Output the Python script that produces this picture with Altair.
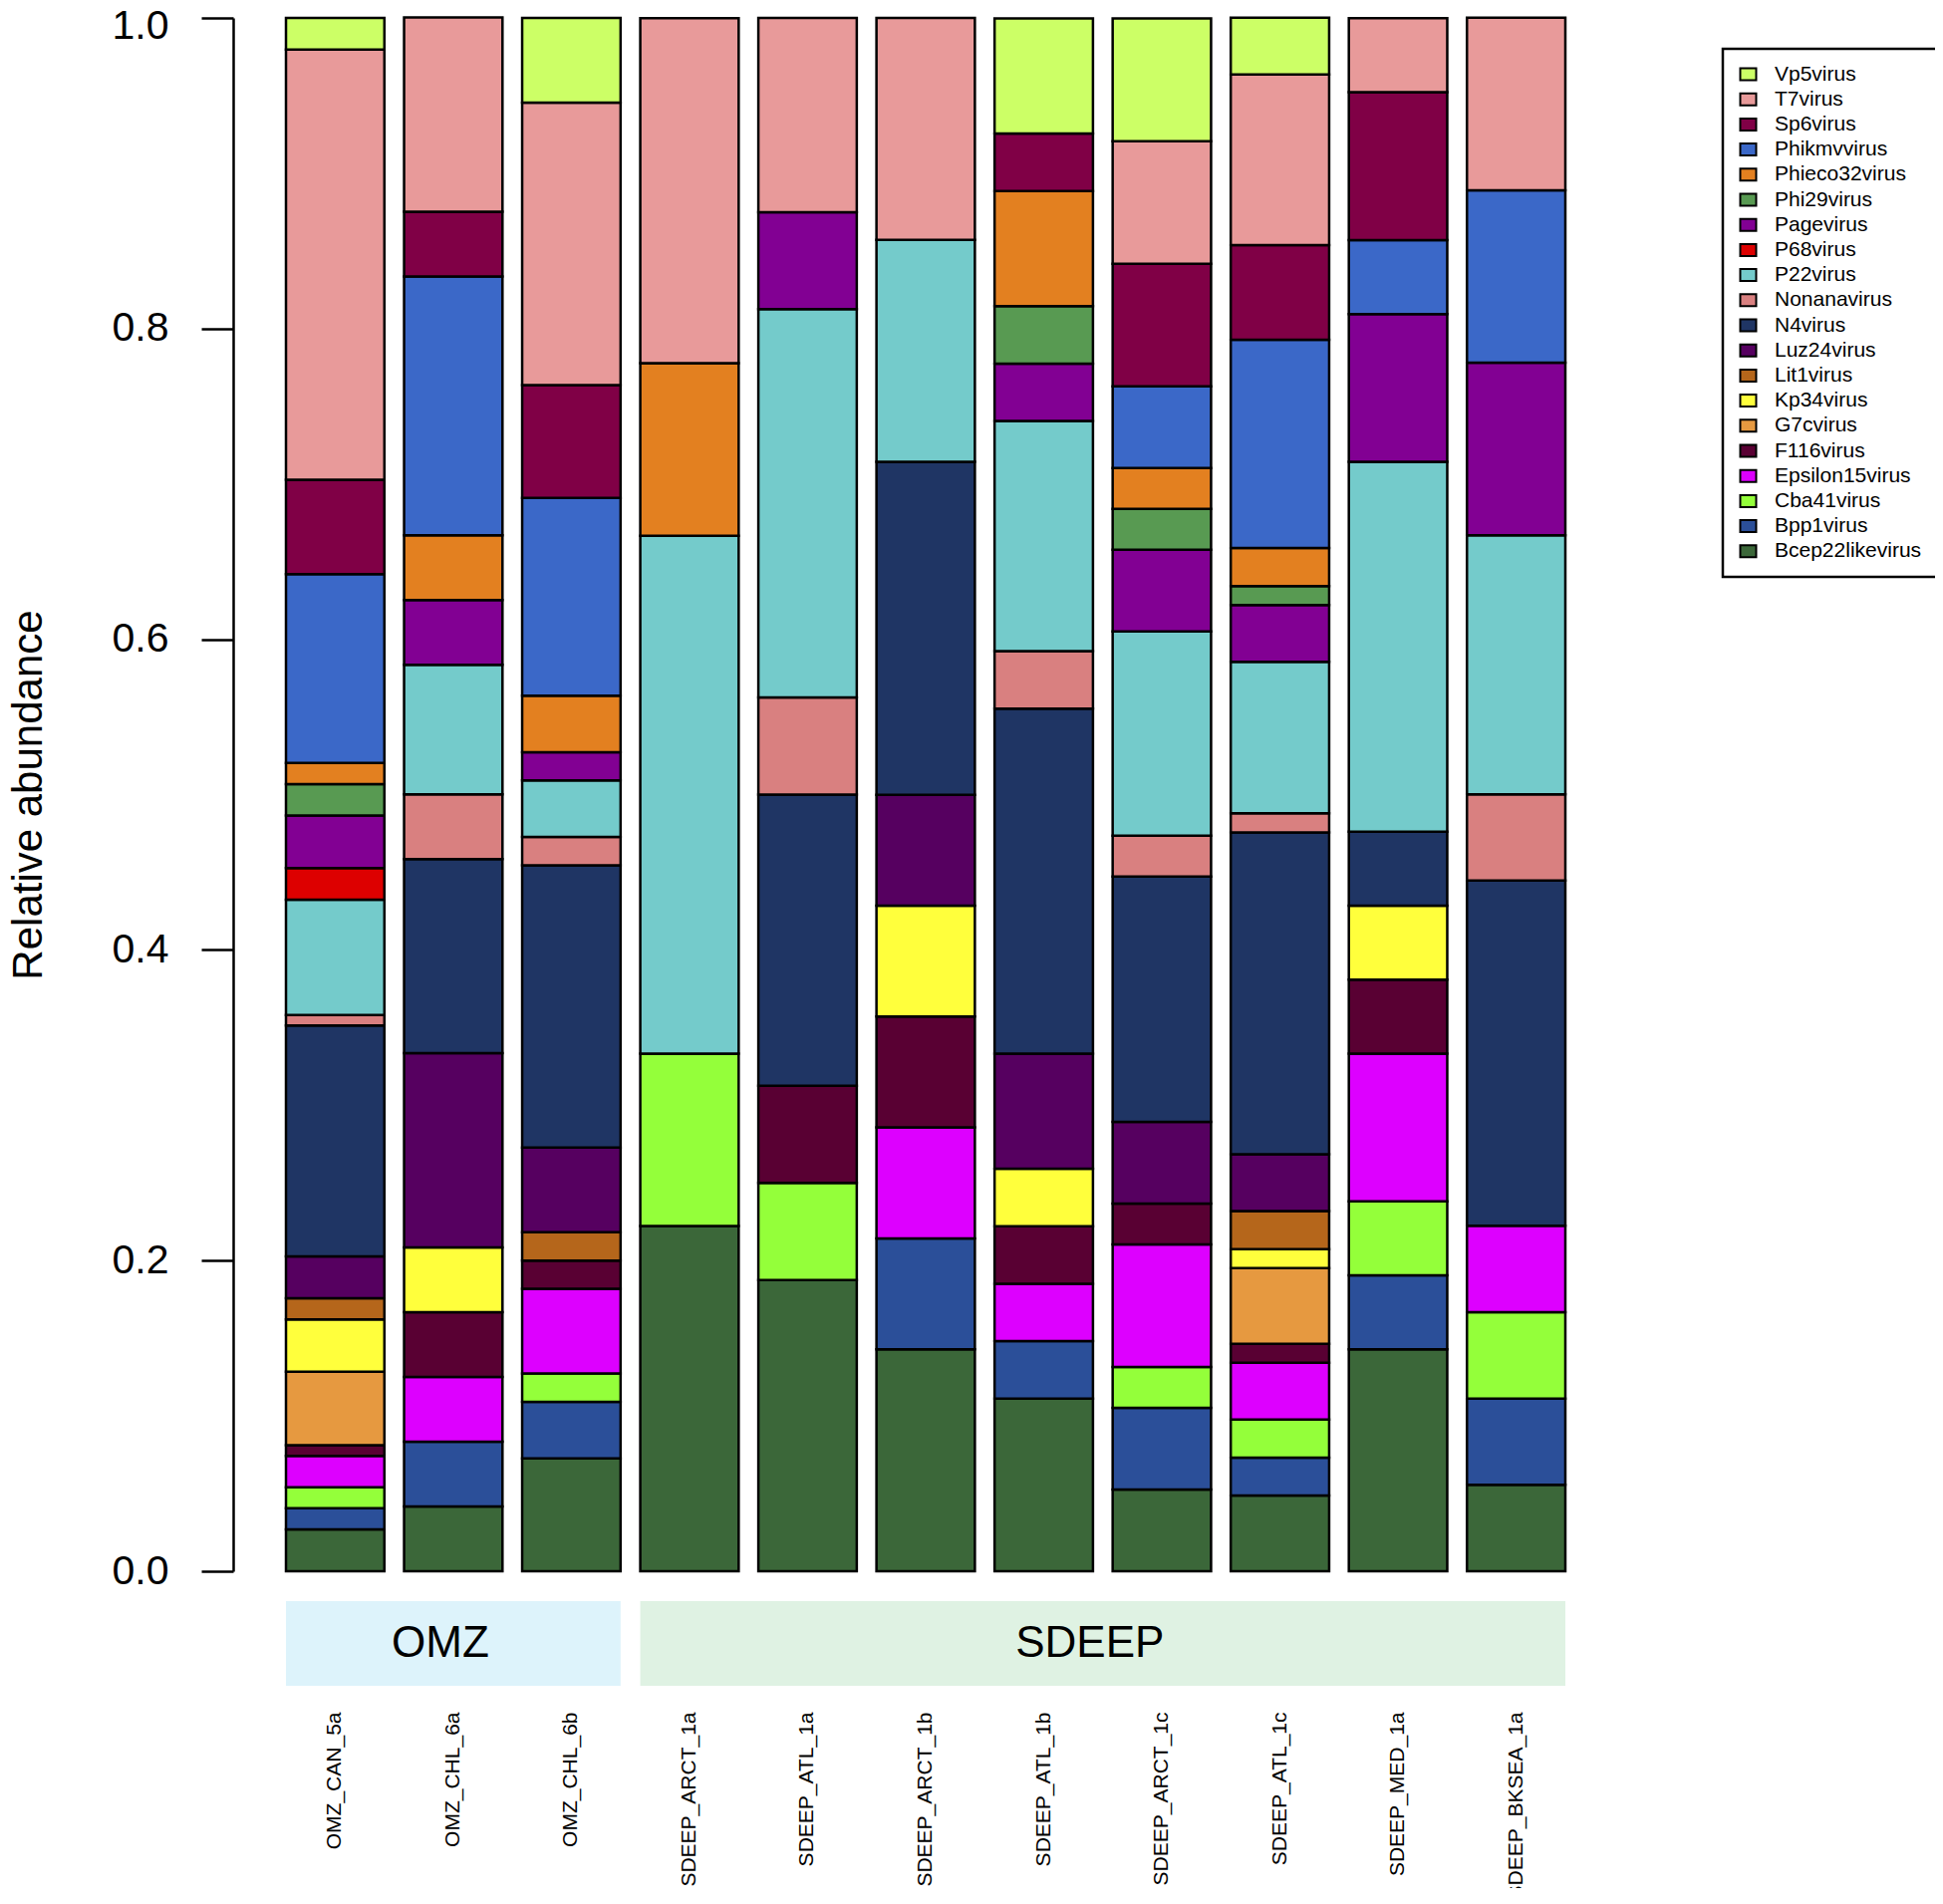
import altair as alt
import pandas as pd

samples = ["OMZ_CAN_5a", "OMZ_CHL_6a", "OMZ_CHL_6b", "SDEEP_ARCT_1a", "SDEEP_ATL_1a",
           "SDEEP_ARCT_1b", "SDEEP_ATL_1b", "SDEEP_ARCT_1c", "SDEEP_ATL_1c",
           "SDEEP_MED_1a", "SDEEP_BKSEA_1a"]
sample_group = ["OMZ", "OMZ", "OMZ", "SDEEP", "SDEEP", "SDEEP", "SDEEP", "SDEEP",
                "SDEEP", "SDEEP", "SDEEP"]
groups = ["OMZ", "SDEEP"]
group_fill = ["#DDF3FB", "#DFF2E3"]

# stacking order, bottom -> top
species = ["Bcep22likevirus", "Bpp1virus", "Cba41virus", "Epsilon15virus", "F116virus",
           "G7cvirus", "Kp34virus", "Lit1virus", "Luz24virus", "N4virus", "Nonanavirus",
           "P22virus", "P68virus", "Pagevirus", "Phi29virus", "Phieco32virus",
           "Phikmvvirus", "Sp6virus", "T7virus", "Vp5virus"]
species_colors = ["#3B6739", "#2B4F99", "#94FF3A", "#DD00FF", "#590033",
                  "#E69940", "#FFFF3C", "#B5661B", "#560060", "#1F3564", "#D98080",
                  "#74CBCB", "#DD0000", "#820093", "#589A52", "#E38020",
                  "#3B68C8", "#800046", "#E89A9A", "#CCFF66"]

Bcep22likevirus = [0.0270, 0.0417, 0.0727, 0.2222, 0.1875, 0.1429, 0.1111, 0.0526, 0.0488, 0.1429, 0.0556]
Bpp1virus       = [0.0135, 0.0417, 0.0364, 0.0, 0.0, 0.0714, 0.0370, 0.0526, 0.0244, 0.0476, 0.0556]
Cba41virus      = [0.0135, 0.0, 0.0182, 0.1111, 0.0625, 0.0, 0.0, 0.0263, 0.0244, 0.0476, 0.0556]
Epsilon15virus  = [0.0203, 0.0417, 0.0545, 0.0, 0.0, 0.0714, 0.0370, 0.0789, 0.0366, 0.0952, 0.0556]
F116virus       = [0.0068, 0.0417, 0.0182, 0.0, 0.0625, 0.0714, 0.0370, 0.0263, 0.0122, 0.0476, 0.0]
G7cvirus        = [0.0473, 0.0, 0.0, 0.0, 0.0, 0.0, 0.0, 0.0, 0.0488, 0.0, 0.0]
Kp34virus       = [0.0338, 0.0417, 0.0, 0.0, 0.0, 0.0714, 0.0370, 0.0, 0.0122, 0.0476, 0.0]
Lit1virus       = [0.0135, 0.0, 0.0182, 0.0, 0.0, 0.0, 0.0, 0.0, 0.0244, 0.0, 0.0]
Luz24virus      = [0.0270, 0.1250, 0.0545, 0.0, 0.0, 0.0714, 0.0741, 0.0526, 0.0366, 0.0, 0.0]
N4virus         = [0.1486, 0.1250, 0.1818, 0.0, 0.1875, 0.2143, 0.2222, 0.1579, 0.2073, 0.0476, 0.2222]
Nonanavirus     = [0.0068, 0.0417, 0.0182, 0.0, 0.0625, 0.0, 0.0370, 0.0263, 0.0122, 0.0, 0.0556]
P22virus        = [0.0743, 0.0833, 0.0364, 0.3333, 0.2500, 0.1429, 0.1481, 0.1316, 0.0976, 0.2381, 0.1667]
P68virus        = [0.0203, 0.0, 0.0, 0.0, 0.0, 0.0, 0.0, 0.0, 0.0, 0.0, 0.0]
Pagevirus       = [0.0338, 0.0417, 0.0182, 0.0, 0.0625, 0.0, 0.0370, 0.0526, 0.0366, 0.0952, 0.1111]
Phi29virus      = [0.0203, 0.0, 0.0, 0.0, 0.0, 0.0, 0.0370, 0.0263, 0.0122, 0.0, 0.0]
Phieco32virus   = [0.0135, 0.0417, 0.0364, 0.1111, 0.0, 0.0, 0.0741, 0.0263, 0.0244, 0.0, 0.0]
Phikmvvirus     = [0.1216, 0.1667, 0.1273, 0.0, 0.0, 0.0, 0.0, 0.0526, 0.1341, 0.0476, 0.1111]
Sp6virus        = [0.0608, 0.0417, 0.0727, 0.0, 0.0, 0.0, 0.0370, 0.0789, 0.0610, 0.0952, 0.0]
T7virus         = [0.2770, 0.1250, 0.1818, 0.2222, 0.1250, 0.1429, 0.0, 0.0789, 0.1098, 0.0476, 0.1111]
Vp5virus        = [0.0203, 0.0, 0.0545, 0.0, 0.0, 0.0, 0.0741, 0.0789, 0.0366, 0.0, 0.0]

series = [Bcep22likevirus, Bpp1virus, Cba41virus, Epsilon15virus, F116virus, G7cvirus,
          Kp34virus, Lit1virus, Luz24virus, N4virus, Nonanavirus, P22virus, P68virus,
          Pagevirus, Phi29virus, Phieco32virus, Phikmvvirus, Sp6virus, T7virus, Vp5virus]

y_ticks = [0.0, 0.2, 0.4, 0.6, 0.8, 1.0]

# ---- long table ----
rows = []
for k, (name, vals) in enumerate(zip(species, series)):
    for s, v in zip(samples, vals):
        if v > 0:
            rows.append({"sample": s, "virus": name, "value": v, "k": k})
df = pd.DataFrame(rows)

# layout constants
W, H = 1366, 1559
P_IN, P_OUT = 0.1667, 0.346
n = len(samples)
span = n - P_IN + 2 * P_OUT

grows = []
for g, f in zip(groups, group_fill):
    idx = [i for i, sg in enumerate(sample_group) if sg == g]
    x0 = P_OUT + min(idx)
    x1 = P_OUT + max(idx) + 1 - P_IN
    grows.append({"group": g, "x0": x0, "x1": x1, "xm": (x0 + x1) / 2, "fill": f})
gdf = pd.DataFrame(grows)

legend_order = species[::-1]
legend_colors = species_colors[::-1]

FONT = "Liberation Sans"

bars = alt.Chart(df).mark_bar(stroke="black", strokeWidth=2.5).encode(
    x=alt.X("sample:N", sort=samples,
            scale=alt.Scale(paddingInner=P_IN, paddingOuter=P_OUT),
            axis=alt.Axis(title=None, labelAngle=270, labelFontSize=21, labelFont=FONT,
                          labelColor="black", ticks=False, domain=False,
                          labelPadding=141, labelLimit=400)),
    y=alt.Y("value:Q", stack="zero",
            scale=alt.Scale(domain=[0, 1], nice=False, zero=True),
            axis=alt.Axis(title="Relative abundance", values=y_ticks, format=".1f",
                          grid=False, offset=12, tickSize=32, tickWidth=2.5,
                          tickColor="black", domainColor="black", domainWidth=2.5,
                          labelFontSize=41, labelFont=FONT, labelColor="black",
                          labelPadding=33,
                          labelOffset=alt.condition("datum.value == 1", alt.value(8), alt.value(0)),
                          titleFontSize=42, titleFont=FONT,
                          titleFontWeight="normal", titleColor="black",
                          titlePadding=62)),
    color=alt.Color("virus:N",
                    scale=alt.Scale(domain=legend_order, range=legend_colors),
                    legend=alt.Legend(orient="none", legendX=1483, legendY=31, title=None,
                                      symbolType="M-1,-0.75H1V0.75H-1Z", symbolSize=256,
                                      symbolStrokeColor="black", symbolStrokeWidth=2,
                                      symbolOpacity=1,
                                      labelFontSize=21, labelFont=FONT, labelColor="black",
                                      labelOffset=16, padding=15, rowPadding=3.2,
                                      strokeColor="black", fillColor="white",
                                      labelLimit=300)),
    order=alt.Order("k:Q", sort="ascending"),
)

band_scale = alt.Scale(domain=[0, span], nice=False, zero=False)

bands = alt.Chart(gdf).mark_rect().encode(
    x=alt.X("x0:Q", scale=band_scale, axis=None),
    x2="x1:Q",
    y=alt.value(H + 30),
    y2=alt.value(H + 115),
    color=alt.Color("fill:N", scale=None, legend=None),
)

band_text = alt.Chart(gdf).mark_text(fontSize=44, font=FONT, color="black", dx=-13,
                                     align="center", baseline="middle").encode(
    x=alt.X("xm:Q", scale=band_scale, axis=None),
    y=alt.value(H + 73),
    text="group:N",
)

chart = alt.layer(bands, band_text, bars).resolve_scale(
    x="independent", color="independent"
).properties(
    width=W, height=H,
    autosize=alt.AutoSizeParams(type="none"),
    padding={"left": 238, "top": 10, "right": 330, "bottom": 318},
).configure_view(stroke=None).configure_legend(strokeWidth=2.5)

chart.save("out.html", embed_options={"renderer": "svg", "actions": False})
